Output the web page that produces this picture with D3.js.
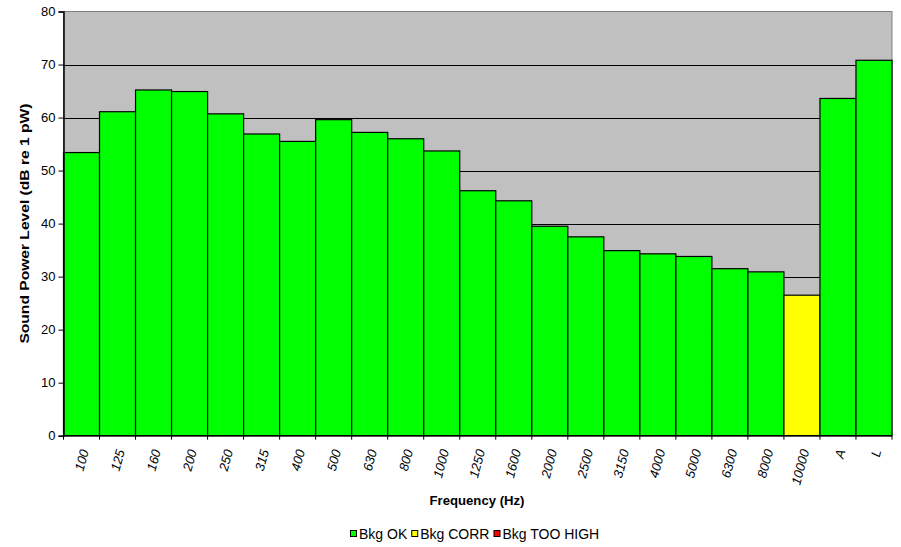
<!DOCTYPE html>
<html><head><meta charset="utf-8">
<script src="https://cdn.jsdelivr.net/npm/d3@7"></script>
<style>
body{margin:0;background:#fff;}
text{font-family:Arial,"Liberation Sans",sans-serif;}
</style></head>
<body><svg id="c" width="901" height="547"></svg>
<script>
const categories = ["100","125","160","200","250","315","400","500","630","800","1000","1250","1600","2000","2500","3150","4000","5000","6300","8000","10000","A","L"];
const values = [53.4,61.1,65.2,64.9,60.7,56.9,55.5,59.6,57.2,56.0,53.7,46.2,44.3,39.5,37.5,34.9,34.3,33.8,31.5,30.9,26.5,63.6,70.8];
const status = ["OK","OK","OK","OK","OK","OK","OK","OK","OK","OK","OK","OK","OK","OK","OK","OK","OK","OK","OK","OK","CORR","OK","OK"];
const yTicks = [0,10,20,30,40,50,60,70,80];
const legendLabels = ["Bkg OK","Bkg CORR","Bkg TOO HIGH"];
const legendKeys = ["OK","CORR","HIGH"];
const colors = {OK:"#00FF00", CORR:"#FFFF00", HIGH:"#FF0000"};

const svg = d3.select("#c");
const L = 63.5, R = 892, T = 11.5, B = 435.7;
const x = d3.scaleBand().domain(categories).range([L, R]).padding(0);
const y = d3.scaleLinear().domain([0, 80]).range([B, T]);

svg.append("rect").attr("x", L).attr("y", T).attr("width", R - L).attr("height", B - T)
  .attr("fill", "#C0C0C0").attr("stroke", "#808080").attr("stroke-width", 1);

svg.append("g").selectAll("line").data(yTicks.filter(d => d > 0 && d < 80)).join("line")
  .attr("x1", L).attr("x2", R).attr("y1", d => Math.round(y(d)) + 0.5).attr("y2", d => Math.round(y(d)) + 0.5)
  .attr("stroke", "#000").attr("stroke-width", 1);

svg.append("g").selectAll("rect").data(values).join("rect")
  .attr("x", (d, i) => x(categories[i]))
  .attr("y", d => y(d))
  .attr("width", x.bandwidth())
  .attr("height", d => B - y(d))
  .attr("fill", (d, i) => colors[status[i]])
  .attr("stroke", "#000").attr("stroke-width", 1.2);

// Y axis
const yAxis = svg.append("g").attr("transform", `translate(${L},0)`)
  .call(d3.axisLeft(y).tickValues(yTicks).tickSize(5).tickPadding(3));
yAxis.select(".domain").attr("stroke", "#000").attr("stroke-width", 1.5);
yAxis.selectAll(".tick line").attr("stroke", "#000");
yAxis.selectAll(".tick text").attr("font-size", 13).attr("fill", "#000")
  .style("font-family", "Arial, 'Liberation Sans', sans-serif");

// X axis with ticks at category boundaries
const xAxisG = svg.append("g").attr("transform", `translate(0,${B})`);
xAxisG.append("line").attr("x1", L).attr("x2", R).attr("y1", 0).attr("y2", 0)
  .attr("stroke", "#000").attr("stroke-width", 1.5);
const bounds = categories.map(c => x(c)).concat([R]);
xAxisG.selectAll("line.tk").data(bounds).join("line").attr("class", "tk")
  .attr("x1", d => d).attr("x2", d => d).attr("y1", 0).attr("y2", 4)
  .attr("stroke", "#000");
xAxisG.selectAll("text.lbl").data(categories).join("text").attr("class", "lbl")
  .attr("transform", d => `translate(${x(d) + x.bandwidth() / 2 + 3},${14}) rotate(-75)`)
  .attr("text-anchor", "end").attr("dy", "0.35em")
  .attr("font-size", 13).attr("font-style", "italic").attr("fill", "#000")
  .text(d => d);

// Axis titles
svg.append("text").attr("transform", `translate(29,${(T + B) / 2}) rotate(-90)`)
  .attr("text-anchor", "middle").attr("font-size", 13).attr("font-weight", "bold")
  .attr("textLength", 240).attr("lengthAdjust", "spacingAndGlyphs")
  .text("Sound Power Level (dB re 1 pW)");
svg.append("text").attr("x", 477).attr("y", 505)
  .attr("text-anchor", "middle").attr("font-size", 13).attr("font-weight", "bold")
  .attr("textLength", 95).attr("lengthAdjust", "spacingAndGlyphs")
  .text("Frequency (Hz)");

// Legend, items laid out one after another
const lg = svg.append("g");
let cx = 350;
legendLabels.forEach((lab, i) => {
  lg.append("rect").attr("x", cx + 0.5).attr("y", 530.5).attr("width", 6).attr("height", 6)
    .attr("fill", colors[legendKeys[i]]).attr("stroke", "#000").attr("stroke-width", 1);
  const t = lg.append("text").attr("x", cx + 9).attr("y", 539).attr("font-size", 14).text(lab);
  cx += 9 + t.node().getComputedTextLength() + 4;
});
</script></body></html>
